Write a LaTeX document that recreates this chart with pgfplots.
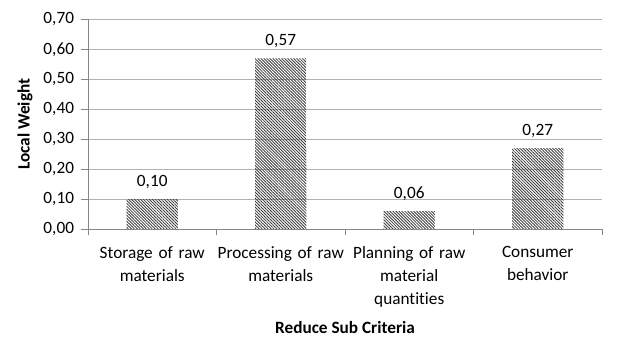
\documentclass[border=0pt]{standalone}
\usepackage{fontspec}
\setmainfont{Carlito}[Ligatures=NoCommon]
\usepackage{pgfplots}
\pgfplotsset{compat=1.18}
\usetikzlibrary{patterns.meta}
\definecolor{gridgray}{RGB}{178,178,178}
\definecolor{axisgray}{RGB}{134,134,134}
\definecolor{hatchgray}{RGB}{60,60,60}
\begin{document}
\begin{tikzpicture}
\begin{axis}[
  scale only axis,
  width=514bp, height=209.5bp,
  font=\fontsize{17.3}{23}\selectfont,
  /pgf/number format/assume math mode=true,
  ymin=0, ymax=0.7,
  ytick={0,0.1,0.2,0.3,0.4,0.5,0.6,0.7},
  yticklabel style={xshift=-3.5bp, /pgf/number format/.cd, fixed, fixed zerofill, precision=2, use comma},
  xmin=-0.5, xmax=3.5,
  xtick={0,1,2,3},
  xticklabels={Storage of raw\\materials, Processing of raw\\materials, Planning of raw\\material\\quantities, Consumer\\behavior},
  xticklabel style={align=center, text width=135bp, yshift=-7bp},
  major x tick style={draw=none},
  minor xtick={-0.5,0.5,1.5,2.5,3.5},
  axis lines*=left,
  axis line style={axisgray, line width=0.9bp},
  tick align=outside,
  tick style={axisgray, line width=0.9bp},
  major tick length=7bp,
  minor tick length=6bp,
  ymajorgrids,
  major grid style={gridgray, line width=0.9bp},
  ylabel={\bfseries Local Weight},
  ylabel style={at={(axis description cs:-0.1226,0.5)}, anchor=center},
  xlabel={\bfseries Reduce Sub Criteria},
  xlabel style={at={(axis description cs:0.5,-0.4726)}, anchor=center},
  clip=false,
]
\addplot[ybar, bar width=0.4, draw=none,
  pattern={Lines[angle=-45, distance=2.1bp, line width=0.85bp]},
  pattern color=hatchgray,
  nodes near coords,
  nodes near coords style={/pgf/number format/.cd, fixed, fixed zerofill, precision=2, use comma, /tikz/.cd, yshift=7bp, text=black},
] coordinates {(0,0.10) (1,0.57) (2,0.06) (3,0.27)};
\end{axis}
\pgfresetboundingbox
\useasboundingbox ([xshift=-88bp,yshift=-109bp]current axis.south west) rectangle ([xshift=41bp,yshift=19.5bp]current axis.north east);
\end{tikzpicture}
\end{document}
